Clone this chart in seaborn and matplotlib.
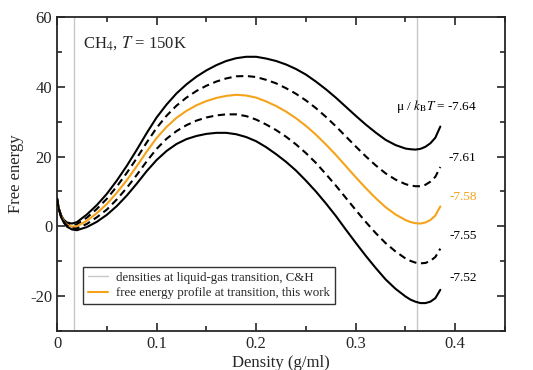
import pandas as pd
import numpy as np
import seaborn as sns
import matplotlib.pyplot as plt
from matplotlib.ticker import MultipleLocator

# density grid (g/ml)
density = [0, 0.001, 0.002, 0.004, 0.007, 0.01, 0.015, 0.02, 0.03, 0.04, 0.05, 0.06, 0.07,
           0.08, 0.09, 0.10, 0.11, 0.12, 0.13, 0.14, 0.15, 0.16, 0.17, 0.18, 0.19, 0.20,
           0.21, 0.22, 0.23, 0.24, 0.25, 0.26, 0.27, 0.28, 0.29, 0.30, 0.31, 0.32, 0.33,
           0.34, 0.35, 0.355, 0.36, 0.365, 0.37, 0.375, 0.38, 0.385]

# free energy, one list per mu/kT
f_764 = [8.0, 6.3, 5.0, 3.2, 1.8, 1.1, 0.8, 1.2, 3.4, 6.1, 9.3, 13.1, 17.3,
         21.9, 26.7, 31.2, 34.9, 38.1, 40.7, 42.9, 44.7, 46.2, 47.4, 48.2, 48.6, 48.6,
         48.1, 47.4, 46.4, 45.1, 43.5, 41.5, 39.3, 36.9, 34.3, 31.7, 29.2, 26.9, 24.8,
         23.3, 22.3, 22.1, 22.0, 22.2, 22.8, 23.8, 25.4, 28.6]
f_761 = [8.0, 6.2, 5.0, 3.1, 1.6, 0.8, 0.3, 0.6, 2.5, 5.0, 7.9, 11.4, 15.3,
         19.5, 24.0, 28.2, 31.7, 34.6, 36.9, 38.8, 40.3, 41.5, 42.4, 43.0, 43.1, 42.8,
         42.0, 41.0, 39.6, 38.0, 36.1, 33.9, 31.4, 28.7, 25.8, 22.9, 20.1, 17.5, 15.2,
         13.4, 12.1, 11.7, 11.5, 11.5, 11.9, 12.8, 14.2, 17.0]
f_758 = [8.0, 6.2, 4.9, 3.0, 1.4, 0.5, -0.1, 0.0, 1.6, 3.8, 6.4, 9.6, 13.2,
         17.2, 21.4, 25.3, 28.5, 31.1, 33.1, 34.7, 35.9, 36.8, 37.4, 37.7, 37.5, 36.9,
         35.8, 34.5, 32.9, 31.0, 28.8, 26.3, 23.5, 20.5, 17.3, 14.1, 11.0, 8.1, 5.5,
         3.4, 1.8, 1.25, 0.9, 0.8, 1.1, 1.8, 3.1, 5.7]
f_755 = [8.0, 6.2, 4.8, 2.9, 1.2, 0.2, -0.6, -0.6, 0.7, 2.6, 4.8, 7.7, 11.0,
         14.7, 18.6, 22.2, 25.1, 27.3, 29.0, 30.3, 31.2, 31.8, 32.1, 32.1, 31.6, 30.6,
         29.2, 27.6, 25.7, 23.5, 21.0, 18.2, 15.0, 11.7, 8.2, 4.7, 1.3, -1.9, -4.8,
         -7.2, -9.2, -9.9, -10.4, -10.6, -10.5, -9.9, -8.8, -6.4]
f_752 = [8.0, 6.1, 4.8, 2.7, 1.0, -0.1, -0.9, -1.1, -0.2, 1.3, 3.3, 5.8, 8.8,
         12.2, 15.8, 19.0, 21.6, 23.6, 25.0, 25.9, 26.5, 26.8, 26.8, 26.4, 25.6, 24.4,
         22.7, 20.7, 18.5, 16.0, 13.1, 10.0, 6.6, 3.0, -0.9, -4.7, -8.4, -11.9, -15.2,
         -17.9, -20.1, -21.0, -21.6, -22.0, -22.0, -21.6, -20.6, -18.2]

mu_labels = ["-7.64", "-7.61", "-7.58", "-7.55", "-7.52"]
label_y = [34.3, 19.7, 8.3, -2.8, -14.9]
transition = [0.0172, 0.3615]

sns.set_style("ticks")
plt.rcParams['font.family'] = ['Liberation Serif', 'DejaVu Serif']
plt.rcParams['mathtext.fontset'] = 'stix'
plt.rcParams['axes.unicode_minus'] = False

df = pd.DataFrame({"density": density, "-7.64": f_764, "-7.61": f_761, "-7.58": f_758,
                   "-7.55": f_755, "-7.52": f_752})

fig = plt.figure(figsize=(5.33, 3.7), dpi=100)
ax = fig.add_axes([0.107, 0.1054, 0.8405, 0.8486])

grey = None
for x in transition:
    grey = ax.axvline(x, color="#c8c8c8", lw=1.0, zorder=1)

orange_c = "#f5a31a"
styles = {"-7.64": ("black", "-"), "-7.61": ("black", (0, (3.5, 2.2))),
          "-7.58": (orange_c, "-"), "-7.55": ("black", (0, (3.5, 2.2))),
          "-7.52": ("black", "-")}
for col in mu_labels:
    c, ls = styles[col]
    sns.lineplot(data=df, x="density", y=col, ax=ax, color=c, linestyle=ls, lw=1.5,
                 sort=False, zorder=3)
orange = ax.lines[len(transition) + 2]

# mu labels at right
for i, (lab, y) in enumerate(zip(mu_labels, label_y)):
    txt = lab
    if i == 0:
        txt = "μ / $k_{\\mathrm{B}}T$ = " + lab
    ax.text(0.4215, y, txt, ha="right", va="center", fontsize=9.5,
            color=orange_c if lab == "-7.58" else "black")

ax.text(0.026, 52.6, "CH$_4$, $T$ = 150K", fontsize=12, va="center")

ax.set_xlim(0, 0.45)
ax.set_ylim(-30, 60)
ax.xaxis.set_major_locator(MultipleLocator(0.1))
ax.xaxis.set_minor_locator(MultipleLocator(0.05))
ax.yaxis.set_major_locator(MultipleLocator(20))
ax.yaxis.set_minor_locator(MultipleLocator(10))
ax.xaxis.set_major_formatter(plt.FuncFormatter(lambda v, p: "0" if abs(v) < 1e-9 else f"{v:.1f}"))
ax.tick_params(which="both", direction="in", top=True, right=True, labelsize=12, width=1.2)
ax.tick_params(which="major", length=6)
ax.tick_params(which="minor", length=3.5)
for s in ax.spines.values():
    s.set_linewidth(1.3)

ax.set_xlabel("Density (g/ml)", fontsize=12, labelpad=2)
ax.set_ylabel("Free energy", fontsize=12, labelpad=4)

leg = ax.legend([grey, orange],
                ["densities at liquid-gas transition, C&H",
                 "free energy profile at transition, this work"],
                loc="lower left", bbox_to_anchor=(0.057, 0.085), fontsize=9.3,
                frameon=True, fancybox=False, handlelength=1.6, borderpad=0.4,
                labelspacing=0.25, handletextpad=0.6, borderaxespad=0)
leg.get_frame().set_edgecolor("black")
leg.get_frame().set_linewidth(1.0)

fig.savefig("out.png", dpi=100)
